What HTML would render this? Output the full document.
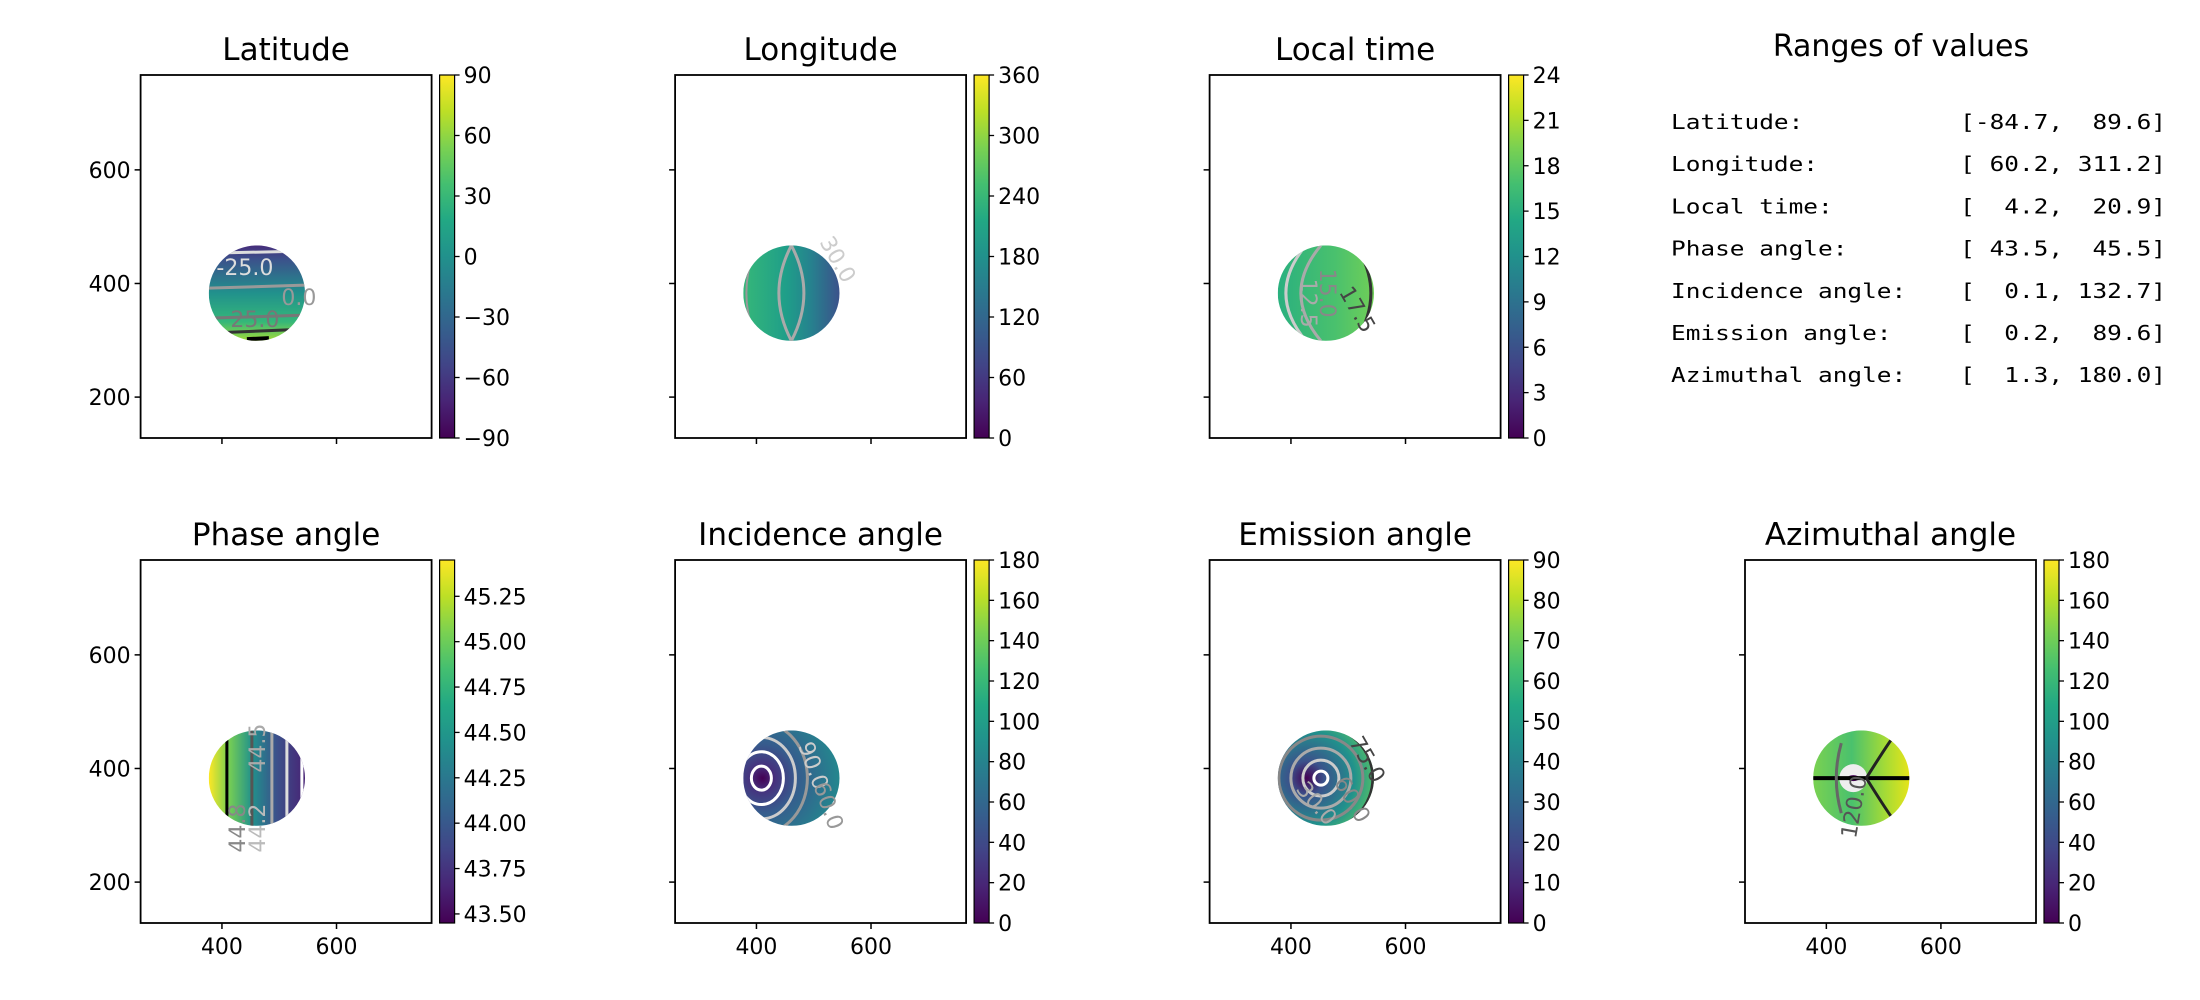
<!DOCTYPE html>
<html><head><meta charset="utf-8"><style>
html,body{margin:0;padding:0;background:#fff;}
svg{display:block;font-family:"DejaVu Sans","Liberation Sans",sans-serif;}
</style></head><body>
<svg id="fig" width="2200" height="1000" viewBox="0 0 2200 1000" xmlns="http://www.w3.org/2000/svg">
<defs id="defs"></defs>
</svg>
<script>
const titles = ["Latitude","Longitude","Local time","Phase angle","Incidence angle","Emission angle","Azimuthal angle"];
const cbMin = [-90,0,0,43.45,0,0,0];
const cbMax = [90,360,24,45.45,180,90,180];
const cbTicks = [
 [-90,-60,-30,0,30,60,90],
 [0,60,120,180,240,300,360],
 [0,3,6,9,12,15,18,21,24],
 [43.5,43.75,44.0,44.25,44.5,44.75,45.0,45.25],
 [0,20,40,60,80,100,120,140,160,180],
 [0,10,20,30,40,50,60,70,80,90],
 [0,20,40,60,80,100,120,140,160,180]];
const cbDecimals = [0,0,0,2,0,0,0];
const yTicks = [200,400,600];
const xTicks = [400,600];
const xDomain = [258,766];
const yDomain = [128,767];
const diskCenter = [461,383];
const diskRadius = 84;
const rangeNames = ["Latitude:","Longitude:","Local time:","Phase angle:","Incidence angle:","Emission angle:","Azimuthal angle:"];
const rangeLo = [-84.7,60.2,4.2,43.5,0.1,0.2,1.3];
const rangeHi = [89.6,311.2,20.9,45.5,132.7,89.6,180.0];

const viridis = ["#440154","#482475","#414487","#355f8d","#2a788e","#21918c","#22a884","#44bf70","#7ad151","#bddf26","#fde725"];
const NS = "http://www.w3.org/2000/svg";
const fig = document.getElementById('fig');
const defs = document.getElementById('defs');
function mk(tag, attrs, parent){const e=document.createElementNS(NS,tag);for(const k in attrs)e.setAttribute(k,attrs[k]);(parent||fig).appendChild(e);return e;}
function txt(s, attrs, parent){const e=mk('text',attrs,parent);e.textContent=s;return e;}
function fmt(v,d){let s=v.toFixed(d);return s.replace('-','\u2212');}

const cbg = mk('linearGradient',{id:'vir',x1:0,y1:1,x2:0,y2:0},defs);
viridis.forEach((c,i)=>mk('stop',{offset:(i/(viridis.length-1)),'stop-color':c},cbg));

function lg(id,x1,y1,x2,y2,stops){const g=mk('linearGradient',{id:id,x1:x1,y1:y1,x2:x2,y2:y2},defs);stops.forEach(s=>mk('stop',{offset:s[0],'stop-color':s[1]},g));}
function rg(id,cx,cy,r,stops){const g=mk('radialGradient',{id:id,cx:cx,cy:cy,r:r},defs);stops.forEach(s=>mk('stop',{offset:s[0],'stop-color':s[1]},g));}
lg('d0',0,0,0,1,[[0,'#472d7b'],[0.15,'#3b528b'],[0.5,'#21918c'],[0.8,'#35b779'],[1,'#a0da39']]);
lg('d1',0,0,1,0,[[0,'#35b779'],[0.45,'#1f9e89'],[0.7,'#26828e'],[1,'#3b528b']]);
lg('d2',0,0,1,0,[[0,'#2ab07f'],[0.6,'#4ac16d'],[1,'#70cf57']]);
lg('d3',0,0,1,0,[[0,'#fde725'],[0.2,'#7ad151'],[0.45,'#21918c'],[0.7,'#3b528b'],[1,'#482475']]);
rg('d4',0.2,0.5,0.9,[[0,'#440154'],[0.15,'#46327e'],[0.4,'#365c8d'],[0.8,'#277f8e'],[1,'#21918c']]);
rg('d5',0.3,0.5,0.9,[[0,'#440154'],[0.2,'#3b528b'],[0.55,'#21918c'],[0.85,'#5ec962'],[1,'#c8e020']]);
lg('d6',0,0,1,0,[[0,'#7ad151'],[0.4,'#4ac16d'],[0.75,'#a5db36'],[1,'#e5e419']]);

const W=291,H=363;
const colL=[140.6,675.1,1209.6,1745];
const rowT=[75,560];
const panels=[[0,0],[1,0],[2,0],[0,1],[1,1],[2,1],[3,1]];

panels.forEach((p,i)=>{
  const L=colL[p[0]], T=rowT[p[1]];
  const sx=v=>L+(v-xDomain[0])/(xDomain[1]-xDomain[0])*W;
  const sy=v=>T+H-(v-yDomain[0])/(yDomain[1]-yDomain[0])*H;
  const g=mk('g',{});
  
  
  const t=txt(titles[i],{x:L+W/2,y:T-15,'text-anchor':'middle','font-size':31,fill:'#000'},g);
  
  
  const cx=sx(diskCenter[0]), cy=sy(diskCenter[1]);
  const rx=sx(diskCenter[0]+diskRadius)-cx, ry=cy-sy(diskCenter[1]+diskRadius);
  const cp=mk('clipPath',{id:'clip'+i},defs);
  mk('ellipse',{cx:cx,cy:cy,rx:rx,ry:ry},cp);
  const disk=mk('g',{'clip-path':'url(#clip'+i+')'},g);
  
  
  mk('rect',{x:cx-rx,y:cy-ry,width:2*rx,height:2*ry,fill:'url(#d'+i+')'},disk);
  const ln=(d,c,w)=>mk('path',{d:d,stroke:c,'stroke-width':w||3,fill:'none'},disk);
  const lab=(s,x,y,c,rot)=>{const e=txt(s,{x:x,y:y,'font-size':22,fill:c,'text-anchor':'middle',transform:rot?`rotate(${rot} ${x} ${y})`:''},g);};
  if(i==0){
    ln(`M${cx-rx} ${cy-40} L${cx+rx} ${cy-42}`,'#ddd',3);
    ln(`M${cx-rx} ${cy-5} L${cx+rx} ${cy-8}`,'#999',3);
    ln(`M${cx-rx} ${cy+25} L${cx+rx} ${cy+22}`,'#777',3);
    ln(`M${cx-rx} ${cy+40} L${cx+rx} ${cy+36}`,'#333',3);
    ln(`M${cx-10} ${cy+46} L${cx+12} ${cy+45}`,'#000',4);
    lab('-25.0',cx-12,cy-18,'#ddd');lab('0.0',cx+42,cy+12,'#999');lab('25.0',cx-2,cy+34,'#777');
  }else if(i==1){
    ln(`M${cx} ${cy-ry} Q${cx-25} ${cy} ${cx} ${cy+ry}`,'#aaa',3);
    ln(`M${cx} ${cy-ry} Q${cx+25} ${cy} ${cx} ${cy+ry}`,'#aaa',3);
    ln(`M${cx-35} ${cy-ry} Q${cx-55} ${cy} ${cx-35} ${cy+ry}`,'#999',2);
    lab('30.0',cx+40,cy-30,'#ccc',60);
  }else if(i==2){
    ln(`M${cx-20} ${cy-ry} Q${cx-60} ${cy} ${cx-20} ${cy+ry}`,'#ccc',3);
    ln(`M${cx-5} ${cy-ry} Q${cx-45} ${cy} ${cx-5} ${cy+ry}`,'#aaa',3);
    ln(`M${cx+30} ${cy-ry} Q${cx+60} ${cy} ${cx+30} ${cy+ry}`,'#333',3);
    lab('15.0',cx-6,cy,'#888',90);lab('12.5',cx-25,cy+10,'#aaa',90);lab('17.5',cx+25,cy+20,'#444',60);
  }else if(i==3){
    [[-30,'#000'],[-5,'#555'],[15,'#aaa'],[30,'#ddd'],[45,'#fff']].forEach(a=>ln(`M${cx+a[0]} ${cy-ry} L${cx+a[0]} ${cy+ry}`,a[1],3));
    lab('44.5',cx+8,cy-30,'#aaa',-90);lab('44.8',cx-12,cy+50,'#888',-90);lab('44.2',cx+8,cy+50,'#bbb',-90);
  }else if(i==4){
    [[10,'#fff'],[22,'#fff'],[34,'#ccc'],[46,'#999']].forEach(a=>mk('ellipse',{cx:cx-30,cy:cy,rx:a[0],ry:a[0]*1.2,stroke:a[1],'stroke-width':3,fill:'none'},disk));
    lab('90.0',cx+15,cy-10,'#ccc',70);lab('60.0',cx+30,cy+30,'#999',70);
  }else if(i==5){
    [[7,'#fff'],[18,'#ccc'],[30,'#aaa'],[42,'#888'],[52,'#333']].forEach(a=>mk('ellipse',{cx:cx-5,cy:cy,rx:a[0],ry:a[0],stroke:a[1],'stroke-width':3,fill:'none'},disk));
    lab('75.0',cx+35,cy-15,'#444',60);lab('60.0',cx+20,cy+25,'#888',60);lab('30.0',cx-15,cy+30,'#aaa',50);
  }else if(i==6){
    mk('ellipse',{cx:cx-8,cy:cy,rx:14,ry:14,fill:'#eee'},disk);
    mk('ellipse',{cx:cx-8,cy:cy,rx:6,ry:3,fill:'#440154'},disk);
    ln(`M${cx-rx} ${cy} L${cx+rx} ${cy}`,'#000',4);
    ln(`M${cx+5} ${cy} Q${cx+30} ${cy-40} ${cx+35} ${cy-45}`,'#222',3);
    ln(`M${cx+5} ${cy} Q${cx+30} ${cy+40} ${cx+35} ${cy+45}`,'#222',3);
    ln(`M${cx-20} ${cy-35} Q${cx-30} ${cy} ${cx-20} ${cy+35}`,'#666',3);
    lab('120.0',cx,cy+30,'#555',-80);
  }
  const fr=mk('rect',{x:L,y:T,width:W,height:H,fill:'none',stroke:'#000','stroke-width':1.8},g);
  
  
  yTicks.forEach(v=>{
    mk('line',{x1:L-6,x2:L,y1:sy(v),y2:sy(v),stroke:'#000','stroke-width':1.5},g);
    if(p[0]==0){const e=txt(String(v),{x:L-10,y:sy(v)+8,'text-anchor':'end','font-size':22},g);
      
      }
  });
  xTicks.forEach(v=>{
    mk('line',{x1:sx(v),x2:sx(v),y1:T+H,y2:T+H+6,stroke:'#000','stroke-width':1.5},g);
    if(p[1]==1){const e=txt(String(v),{x:sx(v),y:T+H+31,'text-anchor':'middle','font-size':22},g);
      
      }
  });
  const cbx=L+299, cbw=15;
  const cb=mk('rect',{x:cbx,y:T,width:cbw,height:H,fill:'url(#vir)',stroke:'#000','stroke-width':1.2},g);
  
  
  const cy2=v=>T+H-(v-cbMin[i])/(cbMax[i]-cbMin[i])*H;
  cbTicks[i].forEach(v=>{
    mk('line',{x1:cbx+cbw,x2:cbx+cbw+5,y1:cy2(v),y2:cy2(v),stroke:'#000','stroke-width':1.3},g);
    const e=txt(fmt(v,cbDecimals[i]),{x:cbx+cbw+9,y:cy2(v)+8,'font-size':22},g);
    
    
  });
});

const rt=txt('Ranges of values',{x:1901,y:56,'text-anchor':'middle','font-size':30});


const CH=14.7;
rangeNames.forEach((n,k)=>{
  const y=129+k*42.2;
  const a=txt(n,{x:1671,y:y,'font-size':20,'font-family':'"DejaVu Sans Mono","Liberation Mono",monospace',textLength:n.length*CH,lengthAdjust:'spacingAndGlyphs'});
  
  
  const lo=rangeLo[k].toFixed(1).padStart(5,' '), hi=rangeHi[k].toFixed(1).padStart(5,' ');
  const s=('['+lo+', '+hi+']').replace(/ /g,'\u00a0');
  const b=txt(s,{x:2166-s.length*CH,y:y,'font-size':20,'font-family':'"DejaVu Sans Mono","Liberation Mono",monospace',textLength:s.length*CH,lengthAdjust:'spacingAndGlyphs'});
  
  
});
</script>
</body></html>
